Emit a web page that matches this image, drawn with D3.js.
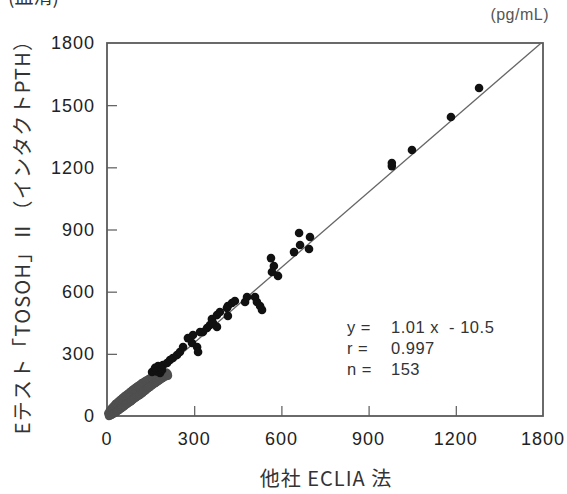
<!DOCTYPE html>
<html lang="ja">
<head>
    <meta charset="UTF-8">
    <title>インタクトPTH 相関</title>
    <script src="https://cdnjs.cloudflare.com/ajax/libs/d3/7.8.5/d3.min.js"></script>
    <style>
        body {
            margin: 0;
            background-color: #ffffff;
        }
        svg text {
            font-family: "Liberation Sans", "Noto Sans CJK JP", sans-serif;
        }
        .jp {
            font-family: "Noto Sans CJK JP", sans-serif;
        }
    </style>
</head>
<body>
    <svg id="chart"></svg>

    <script>
        // Low-range points (grey band)
        const greyX = [5, 8, 10, 12, 15, 18, 20, 22, 25, 28, 30, 32, 35, 38, 40, 42, 45, 48, 50, 52,
            55, 58, 60, 62, 65, 68, 70, 72, 75, 78, 80, 83, 85, 88, 90, 92, 95, 98, 100, 102,
            105, 108, 110, 112, 115, 118, 120, 122, 125, 128, 130, 133, 135, 138, 140, 142, 145, 148, 150, 152,
            155, 158, 160, 162, 165, 168, 170, 172, 175, 178, 180, 183, 185, 188, 190, 192, 195, 198, 200, 203,
            205, 208, 210, 213, 215, 218, 220, 223, 225, 228, 230, 233, 235, 238, 240, 243, 245, 248, 250, 252];
        const greyY = [12, 0, 22, 2, 30, 5, 38, 8, 45, 12, 50, 15, 58, 18, 62, 24, 68, 28, 72, 32,
            78, 36, 82, 40, 88, 45, 92, 48, 98, 54, 100, 58, 106, 62, 110, 66, 116, 70, 120, 74,
            126, 80, 128, 84, 134, 88, 138, 92, 142, 96, 146, 100, 150, 104, 154, 108, 160, 112, 162, 118,
            166, 122, 170, 126, 172, 132, 176, 136, 180, 140, 184, 146, 186, 150, 190, 154, 192, 158, 196, 162,
            198, 166, 200, 170, 202, 174, 204, 178, 206, 182, 206, 186, 208, 190, 208, 192, 210, 196, 204, 194];

        // Mid/high-range points (black)
        const blackX = [186, 198, 211, 205, 219, 227, 231, 248, 260, 272, 289, 301, 314, 334, 351, 355, 372, 376, 384, 396,
            413, 425, 433, 438, 454, 454, 466, 495, 499, 499, 516, 528, 570, 578, 611, 619, 632, 640, 677, 689,
            681, 706, 772, 793, 797, 834, 838, 1176, 1176, 1259, 1420, 1536];
        const blackY = [212, 232, 241, 215, 208, 222, 246, 256, 270, 280, 294, 309, 333, 376, 352, 391, 333, 309, 405, 405,
            425, 439, 468, 449, 430, 487, 502, 521, 531, 483, 545, 555, 550, 574, 574, 550, 531, 512, 762, 724,
            695, 676, 791, 883, 825, 806, 864, 1206, 1221, 1284, 1443, 1583];

        // Axis ticks (the x labels sit at equal steps across the axis)
        const yTicks = [0, 300, 600, 900, 1200, 1500, 1800];
        const xTickPos = [0, 360, 720, 1080, 1440, 1800];
        const xTickLabels = ["0", "300", "600", "900", "1200", "1800"];

        // Regression
        const slope = 1.01;
        const intercept = -10.5;
        const statLabels = ["y =", "r =", "n ="];
        const statValues = ["1.01 x  - 10.5", "0.997", "153"];

        const width = 567;
        const height = 494;
        const margin = { left: 107, right: 24, top: 43, bottom: 78 };

        const svg = d3.select("#chart")
            .attr("width", width)
            .attr("height", height);

        const x = d3.scaleLinear().domain([0, 1800]).range([margin.left, width - margin.right]);
        const y = d3.scaleLinear().domain([0, 1800]).range([height - margin.bottom, margin.top]);

        const axisColor = "#5a5a5a";

        // Frame
        svg.append("rect")
            .attr("x", x(0))
            .attr("y", y(1800))
            .attr("width", x(1800) - x(0))
            .attr("height", y(0) - y(1800))
            .attr("fill", "none")
            .attr("stroke", axisColor)
            .attr("stroke-width", 1.8);

        // Y axis (ticks pointing inward)
        const yAxis = svg.append("g")
            .attr("transform", `translate(${x(0)},0)`)
            .call(d3.axisRight(y).tickValues(yTicks).tickSize(10).tickFormat(""));
        yAxis.select(".domain").remove();
        yAxis.selectAll("line").attr("stroke", axisColor).attr("stroke-width", 1.2)
            .filter(d => d === 0 || d === 1800).remove();

        svg.append("g").selectAll("text")
            .data(yTicks)
            .enter().append("text")
            .attr("x", 95)
            .attr("y", d => y(d))
            .attr("dy", "0.36em")
            .attr("text-anchor", "end")
            .attr("font-size", 18)
            .attr("letter-spacing", 1)
            .attr("fill", "#222")
            .text(d => d);

        // X axis (ticks pointing inward)
        const xAxis = svg.append("g")
            .attr("transform", `translate(0,${y(0)})`)
            .call(d3.axisTop(x).tickValues(xTickPos).tickSize(10).tickFormat(""));
        xAxis.select(".domain").remove();
        xAxis.selectAll("line").attr("stroke", axisColor).attr("stroke-width", 1.2)
            .filter(d => d === 0 || d === 1800).remove();

        svg.append("g").selectAll("text")
            .data(xTickPos)
            .enter().append("text")
            .attr("x", d => x(d))
            .attr("y", 445)
            .attr("text-anchor", "middle")
            .attr("font-size", 18)
            .attr("letter-spacing", 1)
            .attr("fill", "#222")
            .text((d, i) => xTickLabels[i]);

        // Regression line
        const x0 = (0 - intercept) / slope;
        const x1 = (1800 - intercept) / slope;
        svg.append("line")
            .attr("x1", x(x0))
            .attr("y1", y(slope * x0 + intercept))
            .attr("x2", x(x1))
            .attr("y2", y(slope * x1 + intercept))
            .attr("stroke", "#666")
            .attr("stroke-width", 1.3);

        // Points
        const greyData = greyX.map((v, i) => ({ x: v, y: greyY[i] }));
        const blackData = blackX.map((v, i) => ({ x: v, y: blackY[i] }));

        svg.append("g").selectAll("circle")
            .data(greyData)
            .enter().append("circle")
            .attr("cx", d => x(d.x))
            .attr("cy", d => y(d.y))
            .attr("r", 4.2)
            .attr("fill", "#4f4f4f");

        svg.append("g").selectAll("circle")
            .data(blackData)
            .enter().append("circle")
            .attr("cx", d => x(d.x))
            .attr("cy", d => y(d.y))
            .attr("r", 4.3)
            .attr("fill", "#111");

        // Stats
        const stats = svg.append("g");
        stats.selectAll(".lab")
            .data(statLabels)
            .enter().append("text")
            .attr("x", 347)
            .attr("y", (d, i) => 333 + i * 21)
            .attr("font-size", 16.5)
            .attr("letter-spacing", 0.5)
            .attr("fill", "#333")
            .attr("xml:space", "preserve")
            .text(d => d);
        stats.selectAll(".val")
            .data(statValues)
            .enter().append("text")
            .attr("x", 391)
            .attr("y", (d, i) => 333 + i * 21)
            .attr("font-size", 16.5)
            .attr("letter-spacing", 0.5)
            .attr("fill", "#333")
            .attr("xml:space", "preserve")
            .text(d => d);

        // Unit
        svg.append("text")
            .attr("x", 549)
            .attr("y", 20)
            .attr("text-anchor", "end")
            .attr("font-size", 16)
            .attr("letter-spacing", 0.5)
            .attr("fill", "#555")
            .text("(pg/mL)");

        // Label at top left, cut off by the page edge as in the original
        svg.append("text")
            .attr("class", "jp")
            .attr("x", 8)
            .attr("y", 4)
            .attr("font-size", 19)
            .attr("fill", "#333")
            .text("(血清)");

        // Axis titles
        svg.append("text")
            .attr("class", "jp")
            .attr("transform", "translate(30,232) rotate(-90)")
            .attr("text-anchor", "middle")
            .attr("font-size", 20)
            .attr("letter-spacing", 1.2)
            .attr("fill", "#333")
            .text("Eテスト「TOSOH」Ⅱ（インタクトPTH）");

        svg.append("text")
            .attr("class", "jp")
            .attr("x", 326)
            .attr("y", 486)
            .attr("text-anchor", "middle")
            .attr("font-size", 20)
            .attr("letter-spacing", 1)
            .attr("fill", "#333")
            .text("他社 ECLIA 法");
    </script>
</body>
</html>
